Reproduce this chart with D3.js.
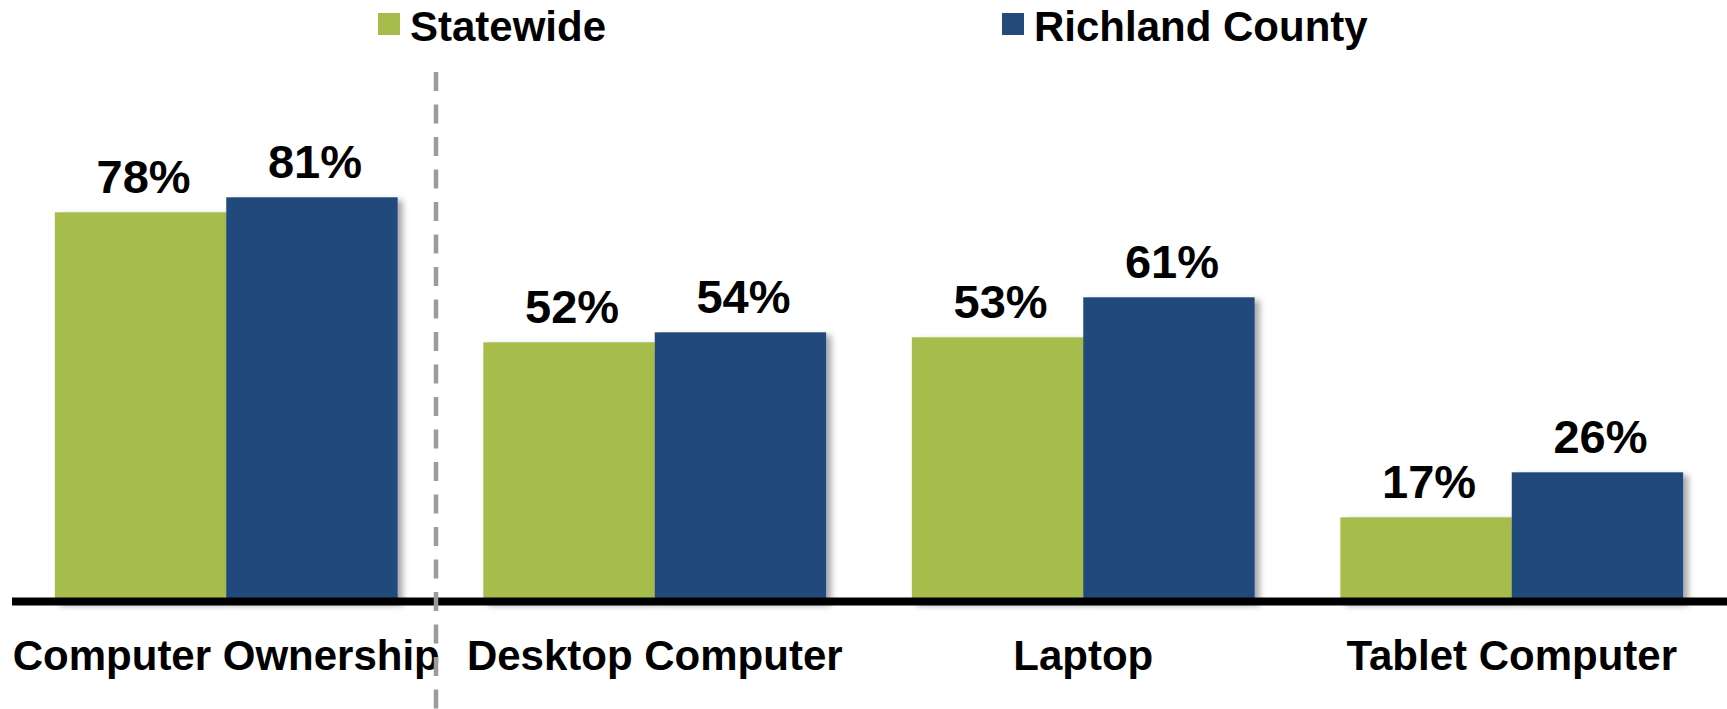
<!DOCTYPE html>
<head>
  <meta charset="utf-8">
  <script src="https://d3js.org/d3.v7.min.js"></script>
  <style>
    body { margin: 0; background: #fff; }
    text { font-family: "Liberation Sans", Arial, sans-serif; font-weight: bold; fill: #000; }
  </style>
</head>

<body>
  <div id="chart"></div>
<script>
// data
var categories = ["Computer Ownership", "Desktop Computer", "Laptop", "Tablet Computer"];
var seriesNames = ["Statewide", "Richland County"];
var statewide = [78, 52, 53, 17];
var richland = [81, 54, 61, 26];
var colors = ["#A6BD4C", "#24497B"];

var width = 1727, height = 709;

var svg = d3.select("#chart").append("svg")
    .attr("width", width)
    .attr("height", height);

// soft shadow to the right of the bars
var defs = svg.append("defs");
defs.append("filter")
    .attr("id", "shadow")
    .attr("x", "-10%").attr("y", "-10%")
    .attr("width", "130%").attr("height", "130%")
  .append("feDropShadow")
    .attr("dx", 5).attr("dy", 3)
    .attr("stdDeviation", 3)
    .attr("flood-color", "#000")
    .attr("flood-opacity", 0.35);

// scales
var x0 = d3.scaleBand()
    .domain(categories)
    .range([12, 1726])
    .paddingInner(0.2)
    .paddingOuter(0.1);

var x1 = d3.scaleBand()
    .domain(seriesNames)
    .range([0, x0.bandwidth()]);

var y = d3.scaleLinear()
    .domain([0, 100])
    .range([602.3, 102.3]);

var rows = categories.map(function(c, i) {
    return { cat: c, values: [statewide[i], richland[i]] };
});

// bars
var groups = svg.selectAll(".group")
    .data(rows)
    .enter()
    .append("g")
    .attr("class", "group")
    .attr("transform", function(d) { return "translate(" + x0(d.cat) + ",0)"; });

groups.selectAll("rect")
    .data(function(d) { return d.values.map(function(v, j) { return { s: seriesNames[j], v: v, j: j }; }); })
    .enter()
    .append("rect")
    .attr("x", function(d) { return x1(d.s); })
    .attr("y", function(d) { return y(d.v); })
    .attr("width", x1.bandwidth())
    .attr("height", function(d) { return y(0) - y(d.v); })
    .attr("fill", function(d) { return colors[d.j]; })
    .attr("filter", "url(#shadow)");

// value labels
groups.selectAll(".val")
    .data(function(d) { return d.values.map(function(v, j) { return { s: seriesNames[j], v: v }; }); })
    .enter()
    .append("text")
    .attr("class", "val")
    .attr("x", function(d) { return x1(d.s) + x1.bandwidth() / 2 + 3; })
    .attr("y", function(d) { return y(d.v) - 19; })
    .attr("text-anchor", "middle")
    .style("font-size", "47px")
    .text(function(d) { return d.v + "%"; });

// x axis
var axis = svg.append("g")
    .attr("transform", "translate(0,601.5)")
    .call(d3.axisBottom(x0).tickSize(0).tickPadding(0));

axis.select(".domain")
    .attr("d", "M12,0H1727")
    .attr("stroke", "#000")
    .attr("stroke-width", 8);

axis.selectAll(".tick text")
    .attr("y", 68)
    .attr("dy", 0)
    .attr("fill", "#000")
    .style("font-family", "'Liberation Sans', Arial, sans-serif")
    .style("font-weight", "bold")
    .style("font-size", "42px");

// dashed separator
svg.append("line")
    .attr("x1", 436).attr("x2", 436)
    .attr("y1", 72).attr("y2", height)
    .attr("stroke", "#9B9B9B")
    .attr("stroke-width", 4.5)
    .attr("stroke-dasharray", "19,13.5");

// legend
var legendX = [378, 1002];
var legend = svg.selectAll(".legend")
    .data(seriesNames)
    .enter()
    .append("g")
    .attr("class", "legend")
    .attr("transform", function(d, i) { return "translate(" + legendX[i] + ",0)"; });

legend.append("rect")
    .attr("y", 13)
    .attr("width", 22)
    .attr("height", 22)
    .attr("fill", function(d, i) { return colors[i]; });

legend.append("text")
    .attr("x", 32)
    .attr("y", 41)
    .style("font-size", "42px")
    .text(function(d) { return d; });
</script>
</body>
</html>
